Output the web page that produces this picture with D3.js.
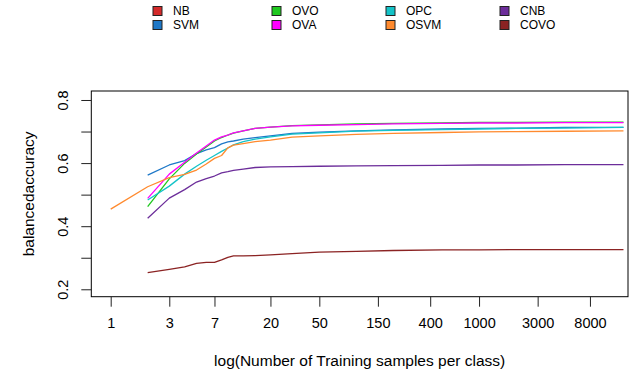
<!DOCTYPE html>
<html>
<head>
<meta charset="utf-8">
<script src="https://cdn.jsdelivr.net/npm/d3@7"></script>
<style>
  html, body { margin: 0; padding: 0; background: #fff; }
  svg { display: block; font-family: "Liberation Sans", Arial, Helvetica, sans-serif; }
</style>
</head>
<body>
<svg id="chart" width="637" height="383"></svg>
<script>
// Training set sizes (samples per class)
const sampleSizes = [1, 2, 3, 4, 5, 6, 7, 8, 9, 10, 12, 15, 20, 30, 50, 100, 200, 500, 1000, 2000, 5000, 15000];

// Balanced accuracy per method (null = not evaluated at that size)
const svmAcc  = [null, 0.562, 0.594, 0.608, 0.630, 0.642, 0.649, 0.661, 0.667, 0.670, 0.676, 0.681, 0.686, 0.694, 0.698, 0.702, 0.705, 0.708, 0.710, 0.711, 0.713, 0.713];
const ovoAcc  = [null, 0.462, 0.550, 0.599, 0.629, 0.651, 0.670, 0.681, 0.689, 0.695, 0.702, 0.710, 0.714, 0.719, 0.721, 0.724, 0.726, 0.727, 0.729, 0.729, 0.730, 0.730];
const ovaAcc  = [null, 0.488, 0.565, 0.603, 0.632, 0.654, 0.673, 0.683, 0.689, 0.696, 0.702, 0.710, 0.714, 0.718, 0.720, 0.722, 0.724, 0.726, 0.727, 0.727, 0.728, 0.728];
const opcAcc  = [null, 0.483, 0.527, 0.565, 0.590, 0.609, 0.624, 0.637, 0.648, 0.658, 0.668, 0.676, 0.683, 0.692, 0.696, 0.701, 0.704, 0.706, 0.708, 0.710, 0.711, 0.713];
const osvmAcc = [0.454, 0.525, 0.554, 0.564, 0.578, 0.597, 0.615, 0.624, 0.648, 0.657, 0.662, 0.668, 0.673, 0.682, 0.686, 0.691, 0.694, 0.697, 0.699, 0.700, 0.701, 0.702];
const cnbAcc  = [null, 0.425, 0.489, 0.516, 0.540, 0.551, 0.559, 0.569, 0.573, 0.577, 0.581, 0.586, 0.588, 0.589, 0.590, 0.591, 0.592, 0.593, 0.594, 0.594, 0.595, 0.595];
const covoAcc = [null, 0.253, 0.263, 0.271, 0.282, 0.285, 0.285, 0.293, 0.301, 0.306, 0.306, 0.307, 0.309, 0.313, 0.318, 0.320, 0.323, 0.325, 0.325, 0.326, 0.326, 0.326];

// Legend entries (column-major, two rows)
const legendNames  = ["NB", "SVM", "OVO", "OVA", "OPC", "OSVM", "CNB", "COVO"];
const legendColors = ["#d42a2a", "#1e78c8", "#1fc81f", "#ff00ff", "#14c3c8", "#ff8a2e", "#6c2d9a", "#8b2323"];

// Plotted lines
const seriesNames  = ["SVM", "OVO", "OVA", "OPC", "OSVM", "CNB", "COVO"];
const seriesValues = [svmAcc, ovoAcc, ovaAcc, opcAcc, osvmAcc, cnbAcc, covoAcc];

// Axis ticks
const xTickValues = [1, 3, 7, 20, 50, 150, 400, 1000, 3000, 8000];
const yTickValues = [0.2, 0.3, 0.4, 0.5, 0.6, 0.7, 0.8];
const yTickLabels = ["0.2", "", "0.4", "", "0.6", "", "0.8"];

const colorOf = d3.scaleOrdinal().domain(legendNames).range(legendColors);

// Layout
const plot = { left: 91.3, right: 628, top: 91, bottom: 296.7 };
const svg = d3.select("#chart");

const x = d3.scaleLog().domain([0.695, 16330]).range([plot.left, plot.right]);
const y = d3.scaleLinear().domain([0.1765, 0.8285]).range([plot.bottom, plot.top]);

// Lines
const line = d3.line()
  .defined(d => d.v !== null)
  .x(d => x(d.n))
  .y(d => y(d.v));

seriesNames.forEach((name, i) => {
  const pts = sampleSizes.map((n, j) => ({ n, v: seriesValues[i][j] }));
  svg.append("path")
    .datum(pts)
    .attr("fill", "none")
    .attr("stroke", colorOf(name))
    .attr("stroke-width", 1.3)
    .attr("stroke-linejoin", "round")
    .attr("d", line);
});

// Plot frame
svg.append("rect")
  .attr("x", plot.left).attr("y", plot.top)
  .attr("width", plot.right - plot.left).attr("height", plot.bottom - plot.top)
  .attr("fill", "none").attr("stroke", "#000").attr("stroke-width", 1);

// X axis
const xAxis = d3.axisBottom(x)
  .tickValues(xTickValues)
  .tickFormat(d3.format("d"))
  .tickSize(10).tickPadding(11);
const gx = svg.append("g").attr("transform", `translate(0,${plot.bottom})`).call(xAxis);
gx.select(".domain").remove();
gx.selectAll(".tick line").attr("stroke", "#222");
gx.selectAll(".tick text").attr("font-size", 14.5).attr("fill", "#000");

// Y axis
const yAxis = d3.axisLeft(y)
  .tickValues(yTickValues)
  .tickFormat((d, i) => yTickLabels[i])
  .tickSize(10);
const gy = svg.append("g").attr("transform", `translate(${plot.left},0)`).call(yAxis);
gy.select(".domain").remove();
gy.selectAll(".tick line").attr("stroke", "#222");
gy.selectAll(".tick text")
  .attr("font-size", 14.5).attr("fill", "#000")
  .attr("x", 0).attr("dy", null)
  .attr("text-anchor", "middle")
  .attr("dominant-baseline", "central")
  .attr("transform", "translate(-28,0) rotate(-90)");

// Axis titles
svg.append("text")
  .attr("x", (plot.left + plot.right) / 2).attr("y", 360)
  .attr("text-anchor", "middle").attr("dominant-baseline", "central")
  .attr("font-size", 15.5)
  .text("log(Number of Training samples per class)");

svg.append("text")
  .attr("transform", `translate(28,${(plot.top + plot.bottom) / 2}) rotate(-90)`)
  .attr("text-anchor", "middle").attr("dominant-baseline", "central")
  .attr("font-size", 15.5)
  .text("balancedaccuracy");

// Legend
const legendColX = [153, 272, 386, 500];
const legendRowY = [11, 25];
const legend = svg.append("g");
legendNames.forEach((name, i) => {
  const cx = legendColX[Math.floor(i / 2)];
  const cy = legendRowY[i % 2];
  legend.append("rect")
    .attr("x", cx).attr("y", cy - 4.5)
    .attr("width", 9).attr("height", 9)
    .attr("fill", colorOf(name)).attr("stroke", "#222").attr("stroke-width", 1);
  legend.append("text")
    .attr("x", cx + 20).attr("y", cy)
    .attr("dominant-baseline", "central")
    .attr("font-size", 12)
    .text(name);
});
</script>
</body>
</html>
